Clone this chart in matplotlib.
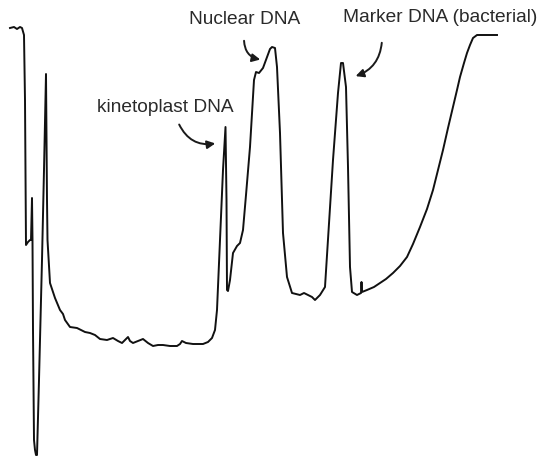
import matplotlib.pyplot as plt

# densitometer scan of the CsCl gradient, traced point by point
position = [10, 14, 17, 20, 22, 24, 25, 26, 28, 30, 31, 32, 32.5, 33, 34, 35, 36, 37,
            39, 42, 44, 46, 47, 47.5, 50, 55, 60, 63, 65, 70, 77, 85, 90, 95, 100, 107,
            113, 118, 122, 125, 128, 130, 133, 138, 143, 148, 153, 158, 163, 170, 177,
            180, 182, 186, 193, 198, 203, 208, 212, 215, 217, 220, 223, 225.5, 226.5,
            227, 228, 230, 233, 237, 240, 243, 246, 250, 254, 256, 259, 263, 267, 270,
            272, 275, 277, 280, 283, 287, 292, 296, 300, 304, 308, 312, 315, 320, 325,
            328, 333, 338, 341, 343, 346, 348, 350, 352, 357, 361, 361.5, 362, 367, 374,
            380, 386, 393, 400, 407, 413, 420, 427, 433, 438, 443, 448, 453, 457, 460,
            464, 467, 470, 473, 477, 480, 497]
depth = [28, 27, 29, 27, 28, 35, 100, 245, 242, 240, 240, 198, 240, 330, 440, 450, 455, 455,
         380, 260, 170, 74, 200, 240, 283, 298, 310, 314, 320, 327, 328, 332, 333, 335, 339, 340,
         338, 341, 343, 340, 337, 341, 343, 341, 339, 343, 346, 345, 345, 346, 346,
         344, 341, 343, 344, 344, 344, 342, 338, 330, 310, 240, 170, 127, 200,
         290, 291, 280, 253, 246, 243, 230, 195, 147, 80, 72, 73, 68, 57, 49,
         47, 48, 67, 133, 233, 277, 293, 294, 295, 293, 295, 297, 300, 295, 287,
         240, 160, 93, 63, 63, 87, 167, 267, 292, 295, 293, 282, 292, 290, 287,
         283, 279, 273, 266, 257, 244, 227, 209, 190, 170, 150, 128, 107, 90, 77,
         63, 53, 45, 38, 35, 35, 35]
absorbance = [458 - d for d in depth]

labels = ["kinetoplast DNA", "Nuclear DNA", "Marker DNA (bacterial)"]
label_xy = [(165, 351), (245, 438), (440, 440)]
arrow_tail = [(178, 336), (244, 420), (382, 418)]
arrow_head = [(218, 315), (263, 398), (353, 381)]
arrow_rad = [0.4, 0.45, -0.35]

fig = plt.figure(figsize=(5.42, 4.58), dpi=100)
ax = fig.add_axes([0, 0, 1, 1])
ax.plot(position, absorbance, color='#111111', lw=1.4, solid_joinstyle='round')

for txt, xy, tail, head, rad in zip(labels, label_xy, arrow_tail, arrow_head, arrow_rad):
    ax.text(xy[0], xy[1], txt, ha='center', va='center', fontsize=13.8,
            family='Liberation Sans', color='#2a2a2a')
    ax.annotate('', xy=head, xytext=tail,
                arrowprops=dict(arrowstyle='-|>', color='#1a1a1a', lw=1.4,
                                mutation_scale=12,
                                connectionstyle='arc3,rad=%s' % rad))

ax.set_xlim(0, 542)
ax.set_ylim(0, 458)
ax.axis('off')
fig.savefig('out.png', dpi=100)
